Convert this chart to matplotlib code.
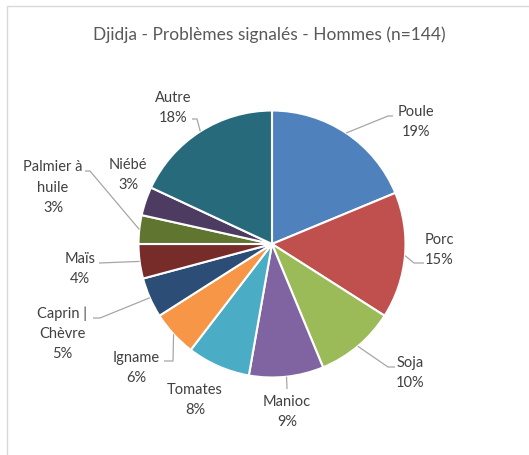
import numpy as np
import matplotlib.pyplot as plt
from matplotlib.patches import Rectangle

labels = ['Poule', 'Porc', 'Soja', 'Manioc', 'Tomates', 'Igname',
          'Caprin |\nChèvre', 'Maïs', 'Palmier à\nhuile', 'Niébé', 'Autre']
counts = [27, 22, 14, 13, 11, 8, 7, 6, 5, 5, 26]
colors = ['#4F81BD', '#C0504D', '#9BBB59', '#8064A2', '#4BACC6', '#F79646',
          '#2C4D75', '#772C2A', '#5F7530', '#4D3B62', '#276A7C']

# label layout in pixel coords: text centre, then leader elbow/end (None = no line)
text_pos = [(416, 122), (439, 250), (410, 373), (287, 412), (195, 400), (136, 368),
            (62, 334), (80, 269), (53, 188), (128, 175), (173, 108)]
leaders = [[(388, 117), (393, 117)], [(414, 264), (424, 264)], [(388, 368), (395, 368)],
           [(287, 390)], None, [(173, 362), (164, 362)],
           [(100, 319), (93, 319)], [(99, 264)], [(90, 172), (85, 172)], None,
           [(197, 120), (192, 120)]]

W, H = 529, 456
cx, cy, r = 272, 245, 133.5
txtcol = '#404040'
line_h = 20.5

fig = plt.figure(figsize=(W / 100, H / 100), dpi=100)
ax = fig.add_axes([0, 0, 1, 1])

# y axis runs downward (pixel-like), so counterclock=True looks clockwise on screen
wedges, _ = ax.pie(counts, colors=colors, startangle=-90, counterclock=True,
                   radius=r, center=(cx, cy),
                   wedgeprops=dict(edgecolor='white', linewidth=1.5))
ax.set_xlim(0, W)
ax.set_ylim(H, 0)
ax.set_aspect('equal')
ax.axis('off')

total = sum(counts)
for w, lab, n, pos, lead in zip(wedges, labels, counts, text_pos, leaders):
    pct = round(100 * n / total)
    lines = lab.split('\n') + [f"{pct}%"]
    y0 = pos[1] - line_h * (len(lines) - 1) / 2
    # one text per line so every line is centred on its own
    for i, s in enumerate(lines):
        ax.text(pos[0], y0 + i * line_h, s, ha='center', va='center',
                fontsize=10.5, family='Lato', color=txtcol)
    if lead:
        th = np.deg2rad((w.theta1 + w.theta2) / 2)
        pts = [(cx + r * np.cos(th), cy + r * np.sin(th))] + lead
        xs, ys = zip(*pts)
        ax.plot(xs, ys, color='#A6A6A6', lw=0.9, solid_capstyle='butt')

ax.text(269, 35, 'Djidja - Problèmes signalés - Hommes (n=144)', ha='center',
        va='center', fontsize=12.5, family='Lato', color='#595959')

# chart frame (continues past the crop at right/bottom)
ax.add_patch(Rectangle((7, 7), 540, 460, fill=False, edgecolor='#D9D9D9', lw=1,
                       clip_on=True))

fig.savefig('out.png', dpi=100, facecolor='white')
